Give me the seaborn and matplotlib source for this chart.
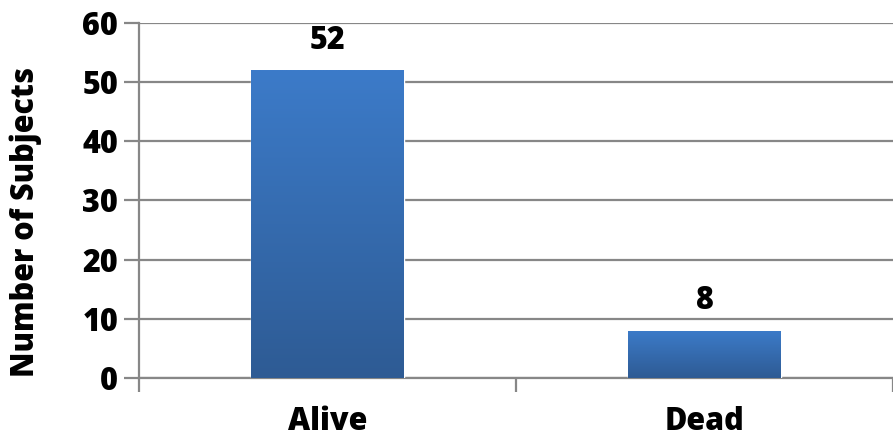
import matplotlib
matplotlib.use("Agg")
import matplotlib.pyplot as plt
import seaborn as sns
import numpy as np
import pandas as pd
from matplotlib.colors import LinearSegmentedColormap

categories = ["Alive", "Dead"]
counts = [52, 8]
y_ticks = [0, 10, 20, 30, 40, 50, 60]
y_label = "Number of Subjects"

sns.set_theme(style="white")
plt.rcParams['font.family'] = ['Open Sans', 'DejaVu Sans']
W = 800
plt.rcParams['font.weight'] = W

df = pd.DataFrame({"status": categories, "n": counts})

fig = plt.figure(figsize=(8.93, 4.42), dpi=100)
ax = fig.add_axes([139/893, 1 - 378/442, 1 - 139/893, (378 - 23)/442])

sns.barplot(data=df, x="status", y="n", ax=ax, color="#3a74bd", width=0.405,
            saturation=1, zorder=3)

grid_c = "#878787"
ax.set_yticks(y_ticks)
ax.yaxis.grid(True, color=grid_c, linewidth=1.6, zorder=0)
ax.set_axisbelow(True)

# gradient fill of bars
cmap = LinearSegmentedColormap.from_list("g", ["#2e5b94", "#3c7bc9"])
grad = np.linspace(0, 1, 256).reshape(-1, 1)
for p in ax.patches:
    x0, y0 = p.get_x(), p.get_y()
    w, h = p.get_width(), p.get_height()
    im = ax.imshow(grad, cmap=cmap, origin="lower", aspect="auto",
                   extent=[x0, x0 + w, y0, y0 + h], zorder=4)
    im.set_clip_path(p)
ax.set_xlim(-0.5, 1.5)
ax.set_ylim(0, 60)

for i, v in enumerate(counts):
    ax.text(i, v + 2.3, str(v), ha="center", va="bottom", fontsize=22,
            fontweight=W, color="black", zorder=5)

for s in ["top", "right"]:
    ax.spines[s].set_visible(False)
for s in ["left", "bottom"]:
    ax.spines[s].set_color(grid_c)
    ax.spines[s].set_linewidth(1.6)

ax.tick_params(axis="y", which="major", length=11, width=1.6, color=grid_c,
               direction="out", labelsize=22, pad=4, left=True)
ax.set_xticks([0, 1])
ax.set_xticklabels(categories)
ax.tick_params(axis="x", which="major", length=0, labelsize=22, pad=20)
ax.set_xticks([-0.5, 0.5, 1.5], minor=True)
ax.tick_params(axis="x", which="minor", length=10, width=1.6, color=grid_c,
               direction="out", bottom=True)
for lab in ax.get_xticklabels() + ax.get_yticklabels():
    lab.set_fontweight(W)
    lab.set_color("black")

ax.set_xlabel("")
ax.set_ylabel(y_label, fontsize=22, fontweight=W, color="black")
ax.yaxis.set_label_coords(-0.128, 0.44)

fig.savefig("out.png", dpi=100)
